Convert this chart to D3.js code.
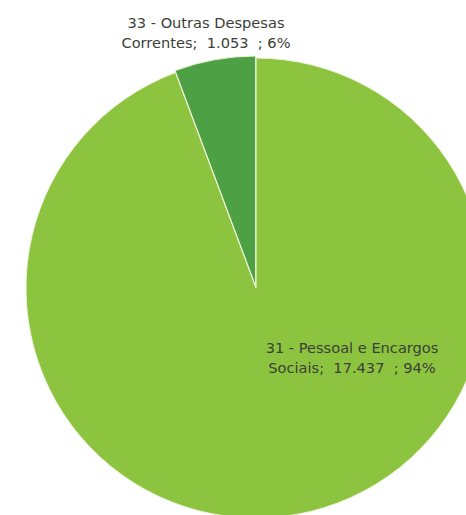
<!DOCTYPE html>
<html><head><meta charset="utf-8">
<script src="https://cdn.jsdelivr.net/npm/d3@7"></script>
<style>html,body{margin:0;padding:0;background:#fff;overflow:hidden} text{white-space:pre}</style>
</head><body>
<svg id="c" width="466" height="515"></svg>
<script>
const categories = ["31 - Pessoal e Encargos Sociais", "33 - Outras Despesas Correntes"];
const values = [17437, 1053];
const percentLabels = ["94%", "6%"];
const labelLines = [["31 - Pessoal e Encargos", "Sociais;  17.437  ; 94%"], ["33 - Outras Despesas", "Correntes;  1.053  ; 6%"]];
const colors = ["#8CC43F", "#4EA045"];

const svg = d3.select("#c");
const cx = 256, cy = 288, r = 230;
const pie = d3.pie().sort(null).value(d => d)(values);
const arc = d3.arc().innerRadius(0).outerRadius(r);
const g = svg.append("g").attr("transform", `translate(${cx},${cy})`);
const explode = [0, 2];
g.selectAll("path").data(pie).join("path")
  .attr("d", arc)
  .attr("transform", (d, i) => {
    const a = (d.startAngle + d.endAngle) / 2;
    return `translate(${Math.sin(a) * explode[i]},${-Math.cos(a) * explode[i]})`;
  })
  .attr("fill", (d, i) => colors[i])
  .attr("stroke", "#eef3d6").attr("stroke-width", 1);

const labelPos = [[352, 353], [206, 28]];
labelLines.forEach((lines, i) => {
  const t = svg.append("text")
    .attr("x", labelPos[i][0]).attr("y", labelPos[i][1])
    .attr("text-anchor", "middle")
    .attr("xml:space", "preserve")
    .attr("font-family", "DejaVu Sans, Verdana, sans-serif")
    .attr("font-size", 14.6)
    .attr("fill", "#3a3f38");
  lines.forEach((ln, j) => {
    t.append("tspan").attr("x", labelPos[i][0]).attr("dy", j === 0 ? 0 : 19.5).text(ln);
  });
});
</script>
</body></html>
